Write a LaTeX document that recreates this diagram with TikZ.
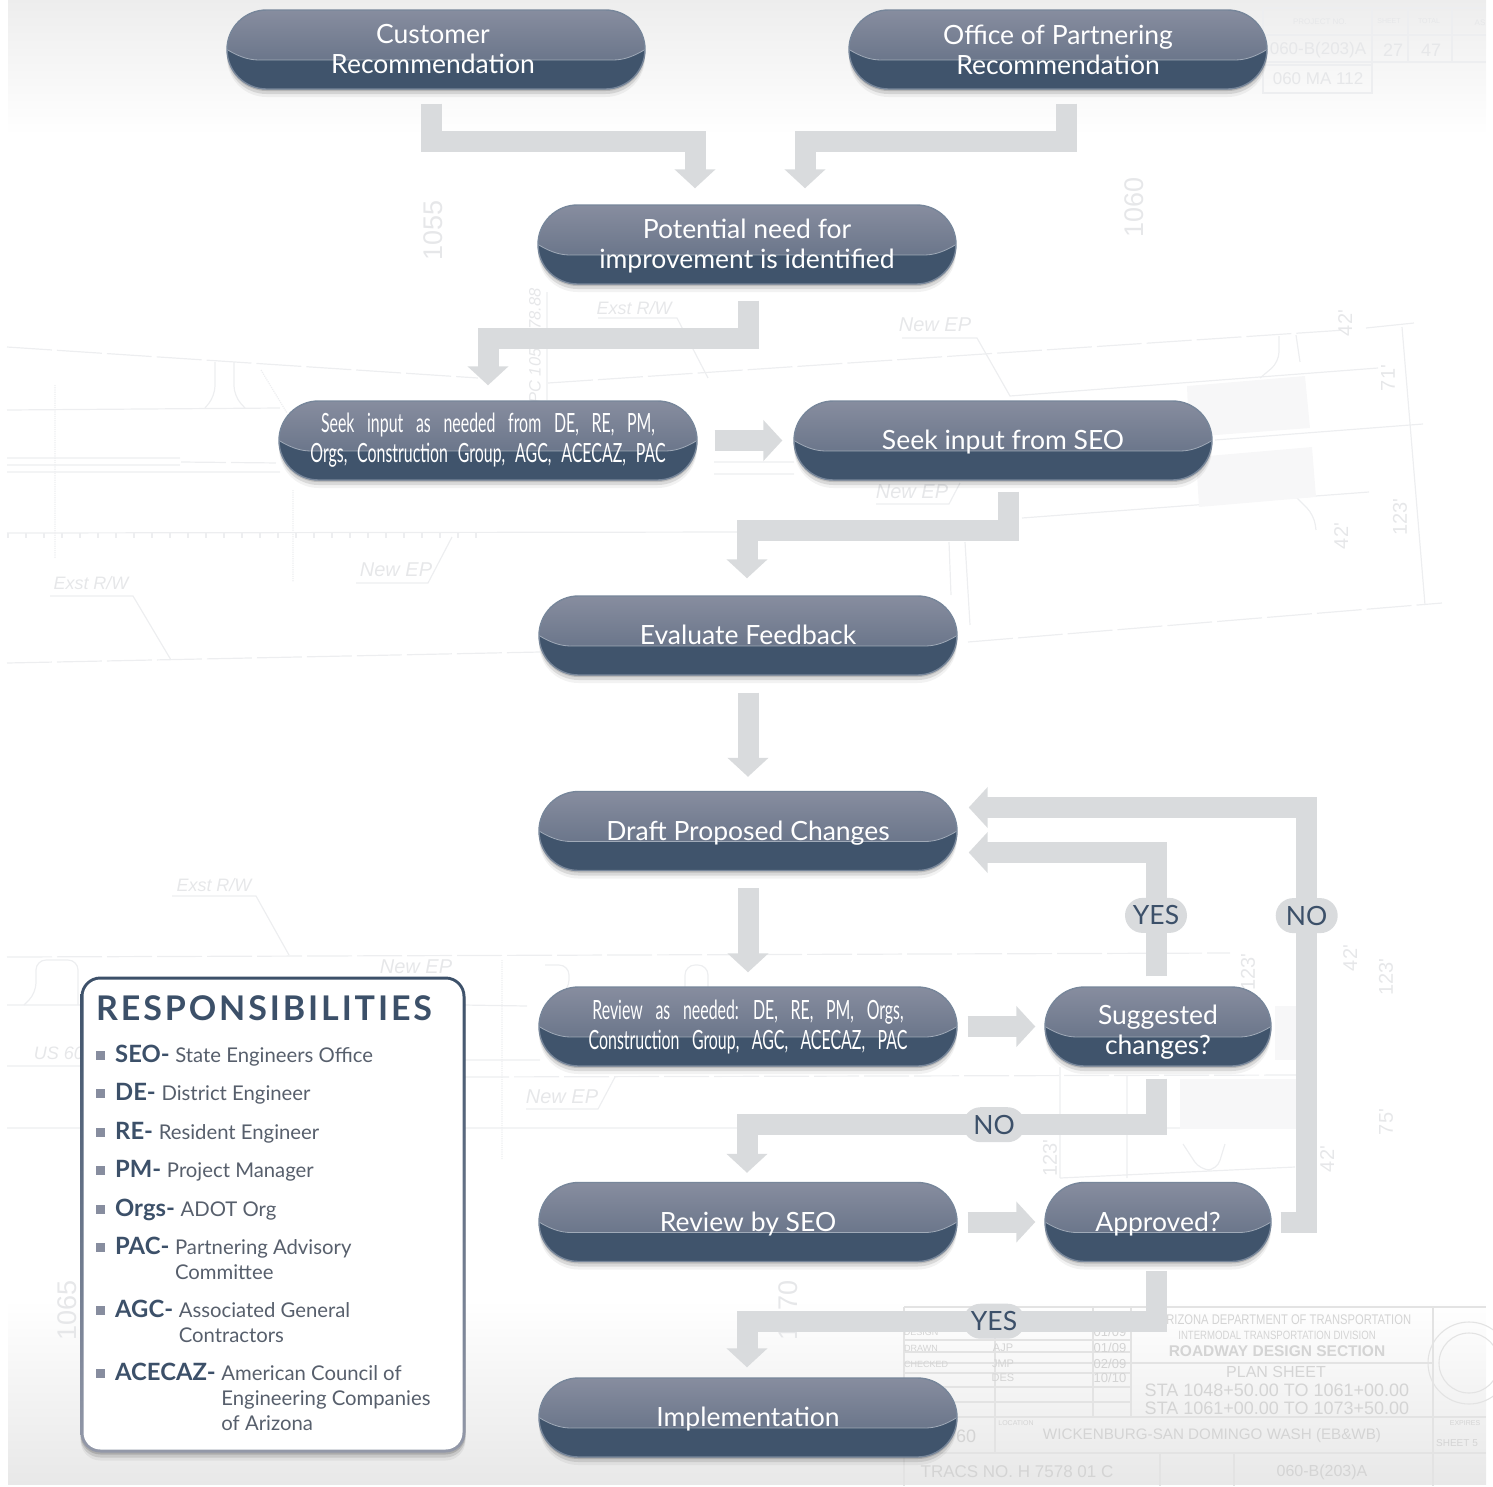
\documentclass[tikz,border=0pt]{standalone}
\usepackage{fontspec}
\setmainfont{Lato}
\newfontfamily\titlefont[LetterSpace=8.5]{Lato}
\newfontfamily\planfont{Liberation Sans}
\usepackage{graphicx}
\usepackage{array}
\usetikzlibrary{positioning,calc,shapes.misc,shadows,arrows.meta}
\definecolor{bandgray}{HTML}{D9DBDD}
\definecolor{pilltop}{HTML}{878D9F}
\definecolor{pillmid}{HTML}{5B697F}
\definecolor{pilldark}{HTML}{40546C}
\definecolor{pilledge}{HTML}{77869A}
\definecolor{keyblue}{HTML}{3C5069}
\definecolor{legtext}{HTML}{575F6C}
\definecolor{planline}{HTML}{EDEEF0}
\definecolor{plantext}{HTML}{E6E7E9}
\providecommand{\cond}[2]{\scalebox{.6}[1]{\spaceskip=#1 #2}}
\providecommand{\planc}[1]{\scalebox{.8}[1]{#1}}
\providecommand{\oneline}[1]{\raisebox{-9.3pt}[0pt][0pt]{#1}}
\providecommand{\glosscurve}{%
    (path picture bounding box.west)
    .. controls +(10,6) and +(-12,0) .. ([shift={(32pt,-10.5pt)}]path picture bounding box.west)
    -- ([shift={(-32pt,-10.5pt)}]path picture bounding box.east)
    .. controls +(12,0) and +(-10,6) .. (path picture bounding box.east)}
\tikzset{
    softshadow/.style={
        drop shadow={shadow xshift=0pt,shadow yshift=-2pt,opacity=.14,fill=black},
        drop shadow={shadow xshift=0pt,shadow yshift=-5pt,opacity=.10,fill=black},
        drop shadow={shadow xshift=0pt,shadow yshift=-8pt,opacity=.05,fill=black}},
    pill/.style={rounded rectangle,minimum width=418pt,minimum height=79pt,inner sep=0pt,
        draw=pilledge,line width=1.4pt,text=white,align=center,
        font=\fontsize{26.5}{30}\selectfont,softshadow,
        path picture={
            \shade[top color=pilltop,bottom color=pillmid]
                (path picture bounding box.north west) rectangle (path picture bounding box.south east);
            \fill[pilldark] \glosscurve -- (path picture bounding box.south east)
                -- (path picture bounding box.south west) -- cycle;
            \draw[pilledge!70!white,line width=.8pt] \glosscurve;
        }},
    smallpill/.style={pill,minimum width=226pt},
    flow/.style={draw=bandgray,line width=21pt,-{Triangle[width=40pt,length=19pt]}},
    tag/.style={rounded rectangle,draw=none,fill=bandgray,minimum width=62pt,minimum height=35pt,
        inner sep=0pt,text=keyblue,font=\fontsize{26.5}{30}\selectfont},
    legframe/.style={rectangle,rounded corners=20pt,minimum width=385pt,minimum height=476pt,
        top color=keyblue,bottom color=pilltop!90!white,softshadow},
    leginner/.style={rectangle,rounded corners=17pt,minimum width=379pt,minimum height=470pt,fill=white},
    legtitle/.style={anchor=base west,inner sep=0pt,text=keyblue,font=\titlefont\bfseries\fontsize{34}{36}\selectfont},
    legbullet/.style={rectangle,fill=pilltop,minimum size=9pt,inner sep=0pt},
    legentry/.style={anchor=base west,inner sep=0pt,text=legtext,font=\fontsize{20.3}{25}\selectfont},
    plan/.style={draw=planline,line width=1.2pt},
    planroad/.style={plan,dash pattern=on 45pt off 5pt},
    planblock/.style={draw=black!11,line width=1.1pt},
    planlabel/.style={text=plantext,inner sep=0pt,font=\planfont},
    blocklabel/.style={planlabel,text=black!17},
}
\newcommand{\legrow}[4]{%
    \node[legbullet] (#2b) at (100.5,#1) {};
    \node[legentry] (#2) at (115,#1+7) {\begin{tabular}[t]{@{}l@{\hspace{.28em}}l@{}}\textcolor{keyblue}{\fontsize{23.8}{25}\selectfont\bfseries #3-}&#4\end{tabular}};}
\begin{document}
\begin{tikzpicture}[x=1pt,y=-1pt,node distance=115.1pt]
    \useasboundingbox (0,0) rectangle (1493,1486);
    % backdrop
    \shade[top color=black!7,bottom color=white] (8,0) rectangle (1486,135);
    \shade[top color=white,bottom color=black!9] (8,1300) rectangle (1486,1484);
    % road plan
    \draw[planroad]
    (7,347) -- (478,378) (7,663) -- (540,652) (548,383) -- (1345,330) (968,642) -- (1442,603)
    (7,957) -- (1230,953) (464,1077) -- (1300,1075) (181,462) -- (280,463);
    \draw[plan]
    (7,410) -- (280,408) (7,458) -- (180,458) (7,465) -- (180,465) (7,472) -- (280,472)
    (714,462) -- (794,462) (714,474) -- (794,474)
    (7,533) -- (750,532) (50,596) -- (133,596) -- (171,660)
    (356,583) -- (428,583) -- (452,537) (598,318) -- (677,318) -- (708,378)
    (1366,328) -- (1414,323) (547,292) -- (547,400)
    (902,338) -- (977,338) -- (1010,396) -- (1378,368) (1215,440) -- (1423,424)
    (1022,518) -- (1369,492) (1402,327) -- (1425,605)
    (876,504) -- (949,504) -- (960,483) (949,542) -- (951,595) (965,542) -- (970,625)
    (172,896) -- (256,896) -- (289,955)
    (7,1005) -- (81,1005) (464,1005) -- (527,1006) (7,1066) -- (81,1066)
    (464,1060) -- (540,1060) (526,1109) -- (598,1109) -- (615,1077)
    (7,1128) -- (81,1128) (464,1128) -- (1300,1128)
    (1060,1067) -- (1060,1178) (1127,1075) -- (1127,1178) (1060,1178) -- (1295,1167);
    \draw[plan,rounded corners=10pt]
    (205,408) -- (215,396) -- (215,362) (245,408) -- (234,396) -- (234,362)
    (1260,378) -- (1279,362) -- (1279,336) (1300,362) -- (1296,335)
    (24,1005) -- (36,993) -- (36,960) -- (78,960) -- (78,1005) (545,1005) -- (569,990) -- (569,965) -- (545,965)
    (685,1005) -- (685,965) -- (708,965) -- (708,1005) (1183,1144) -- (1200,1170) -- (1217,1170) -- (1225,1144)
    (1296,497) -- (1314,515) -- (1316,530);
    \draw[plan,densely dotted] (55,385) -- (55,558) (293,490) -- (293,582) (261,370) -- (287,413) (502,960) -- (502,1160);
    \foreach \tick in {8,26,...,480} \draw[plan] (\tick,533) -- (\tick,538);
    \fill[planline!45!white] (1187,386) -- (1305,376) -- (1310,428) -- (1189,437) -- cycle;
    \fill[planline!45!white] (1196,457) -- (1312,447) -- (1316,497) -- (1199,507) -- cycle;
    \fill[planline!45!white] (1180,1079) -- (1297,1079) -- (1297,1129) -- (1180,1129) -- cycle;
    \fill[planline!45!white] (1275,1006) -- (1297,1006) -- (1297,1060) -- (1275,1060) -- cycle;
    % title blocks
    \draw[planblock]
    (904,1307) -- (1486,1307) (904,1307) -- (904,1486) (995,1307) -- (995,1453) (1093,1307) -- (1093,1417)
    (1131,1307) -- (1131,1417) (1433,1307) -- (1433,1486) (904,1340) -- (1131,1340) (904,1352) -- (1131,1352)
    (904,1363) -- (1433,1363) (904,1373) -- (1131,1373) (904,1387) -- (1131,1387) (904,1402) -- (1131,1402)
    (904,1417) -- (1486,1417) (904,1453) -- (1486,1453) (1160,1453) -- (1160,1486) (1234,1453) -- (1234,1486);
    \draw[plan]
    (1263,8) -- (1486,8) (1263,35) -- (1486,35) (1263,62) -- (1486,62) (1263,8) -- (1263,93) -- (1372,93) -- (1372,8)
    (1263,65) -- (1372,65) (1408,8) -- (1408,62) (1452,8) -- (1452,62);
    \draw[planblock] (1469,1363) circle (41pt) (1469,1363) circle (30pt);
    \foreach \tx/\ty/\rot/\sz/\txt [count=\i] in {
        433/230/90/27/1055, 1134/207/90/27/1060, 67/1310/90/27/1065, 788/1310/90/27/1070,
        535/346/90/16.5/{\itshape PC 1055+78.88},
        91/583/0/18/{\itshape Exst R/W}, 634/308/0/18/{\itshape Exst R/W}, 214/885/0/18/{\itshape Exst R/W},
        396/570/0/20/{\itshape New EP}, 935/325/0/20/{\itshape New EP}, 912/492/0/20/{\itshape New EP},
        416/967/0/20/{\itshape New EP}, 562/1097/0/20/{\itshape New EP}, 59/1053/0/18/{\itshape US 60},
        1345/323/90/20/42', 1388/378/90/20/71', 1341/536/90/20/42', 1400/517/90/20/123',
        1050/1158/90/20/123', 1327/1159/90/20/42', 1248/972/90/20/123', 1350/958/90/20/42',
        1386/977/90/20/123', 1386/1122/90/20/75',
        1320/22/0/8/PROJECT NO., 1318/50/0/17/060-B(203)A, 1393/50/0/18/27,
        1431/50/0/18/47, 1318/79/0/17/060 MA 112, 1480/23/0/8/AS}
        \node[planlabel,rotate=\rot] (planlab\i) at (\tx,\ty) {\fontsize{\sz}{\sz}\selectfont \txt};
    \node[planlabel] (sheetno) at (1389,21) {\fontsize{7}{8}\selectfont SHEET};
    \node[planlabel] (sheettotal) at (1429,21) {\fontsize{7}{8}\selectfont TOTAL};
    \foreach \tx/\ty/\sz/\txt [count=\i] in {
        1285/1320/14/{\planc{ARIZONA DEPARTMENT OF TRANSPORTATION}}, 1277/1335/12/{\planc{INTERMODAL TRANSPORTATION DIVISION}},
        1277/1351/15.5/{\bfseries ROADWAY DESIGN SECTION}, 1276/1372/16/PLAN SHEET,
        1277/1390/18/STA 1048+50.00 TO 1061+00.00, 1277/1408/18/STA 1061+00.00 TO 1073+50.00,
        1212/1436/15.2/WICKENBURG-SAN DOMINGO WASH (EB\&WB), 1017/1472/17/TRACS NO. H 7578 01 C,
        1322/1472/16/060-B(203)A, 1457/1443/10/SHEET 5, 966/1436/18/60, 1016/1423/7/LOCATION,
        921/1332/9/DESIGN, 921/1348/9/DRAWN, 926/1364/9/CHECKED,
        1003/1348/11/AJP, 1003/1364/11/JMP, 1003/1378/11/DES,
        1110/1332/13/{01/09}, 1110/1348/13/{01/09}, 1110/1364/13/{02/09}, 1110/1378/13/{10/10},
        1465/1423/7/EXPIRES}
        \node[blocklabel] (blocklab\i) at (\tx,\ty) {\fontsize{\sz}{\sz}\selectfont \txt};

    % flow boxes
    \node[pill] (cust) at (436,49.5) {Customer\hspace*{6pt}\\Recommendation\hspace*{6pt}};
    \node[pill] (office) at (1058,49.5) {Office of Partnering\\Recommendation};
    \node[pill] (need) at (747,244.5) {\rule{0pt}{22pt}Potential need for\\improvement is identified};
    \node[pill] (askall) at (488,440.5) {\cond{.8em}{Seek input as needed from DE, RE, PM,}\\\cond{.62em}{Orgs, Construction Group, AGC, ACECAZ, PAC}};
    \node[pill] (askseo) at (1003,440.5) {\oneline{Seek input from SEO}};
    \node[pill] (feedback) at (748,635.5) {\oneline{Evaluate Feedback}};
    \node[pill,below=of feedback] (draft) {\oneline{Draft Proposed Changes}};
    \node[pill,below=of draft] (review) {\cond{.8em}{Review as needed: DE, RE, PM, Orgs,}\\\cond{.78em}{Construction Group, AGC, ACECAZ, PAC}};
    \node[pill,below=of review] (seorev) {\oneline{Review by SEO}};
    \node[pill,below=of seorev] (impl) {\oneline{Implementation}};
    \node[smallpill,right=86.6pt of review] (sugg) {\rule{0pt}{30pt}Suggested\\changes?};
    \node[smallpill,right=86.6pt of seorev] (appr) {\oneline{Approved?}};

    % connectors
    \draw[flow] ([shift={(-5pt,-14pt)}]cust.south) -- ++(0,38) -| ([shift={(-52pt,16pt)}]need.north);
    \draw[flow] ([shift={(8pt,-14pt)}]office.south) -- ++(0,38) -| ([shift={(58pt,16pt)}]need.north);
    \draw[flow] ([shift={(1pt,-16pt)}]need.south) -- ++(0,38) -| ([yshift=15pt]askall.north);
    \draw[flow] ([xshift=17pt]askall.east) -- ([xshift=-11pt]askseo.west);
    \draw[flow] ([shift={(5pt,-11pt)}]askseo.south) -- ++(0,39) -| ([shift={(-1pt,17pt)}]feedback.north);
    \draw[flow] ([yshift=-17pt]feedback.south) -- ([yshift=14pt]draft.north);
    \draw[flow] ([yshift=-17pt]draft.south) -- ([yshift=14pt]review.north);
    \draw[flow] ([xshift=10pt]review.east) -- ([xshift=-9pt]sugg.west);
    \draw[flow] ([xshift=10pt]seorev.east) -- ([xshift=-9pt]appr.west);
    \draw[flow] ([shift={(-2pt,10pt)}]sugg.north) |- node[tag,pos=.246] (yeschg) {YES} ([shift={(11pt,-21.5pt)}]draft.east);
    \draw[flow] ([shift={(-2pt,-12pt)}]sugg.south) -- ++(0,46) -- node[tag,pos=.396] (nochg) {NO} ++(-409,0) -- ([shift={(-1pt,9pt)}]seorev.north);
    \draw[flow] ([xshift=9pt]appr.east) -- ++(26,0) |- node[tag,pos=.3696] (noappr) {NO} ([shift={(11pt,23.5pt)}]draft.east);
    \draw[flow] ([shift={(-2pt,-9pt)}]appr.south) -- ++(0,50) -- node[tag,pos=.396] (yesappr) {YES} ++(-409,0) -- ([shift={(-1pt,10pt)}]impl.north);

    % legend
    \node[legframe] (resp) at (273,1214.5) {};
    \node[leginner] (respin) at (resp.center) {};
    \node[legtitle] (resptitle) at (96,1020) {RESPONSIBILITIES};
    \legrow{1055}{seo}{SEO}{State Engineers Office}
    \legrow{1093}{de}{DE}{District Engineer}
    \legrow{1132}{re}{RE}{Resident Engineer}
    \legrow{1170}{pm}{PM}{Project Manager}
    \legrow{1209}{orgs}{Orgs}{ADOT Org}
    \legrow{1247}{pac}{PAC}{Partnering Advisory\\&Committee}
    \legrow{1310}{agc}{AGC}{Associated General\\&Contractors}
    \legrow{1373}{acecaz}{ACECAZ}{American Council of\\&Engineering Companies\\&of Arizona}
\end{tikzpicture}
\end{document}
